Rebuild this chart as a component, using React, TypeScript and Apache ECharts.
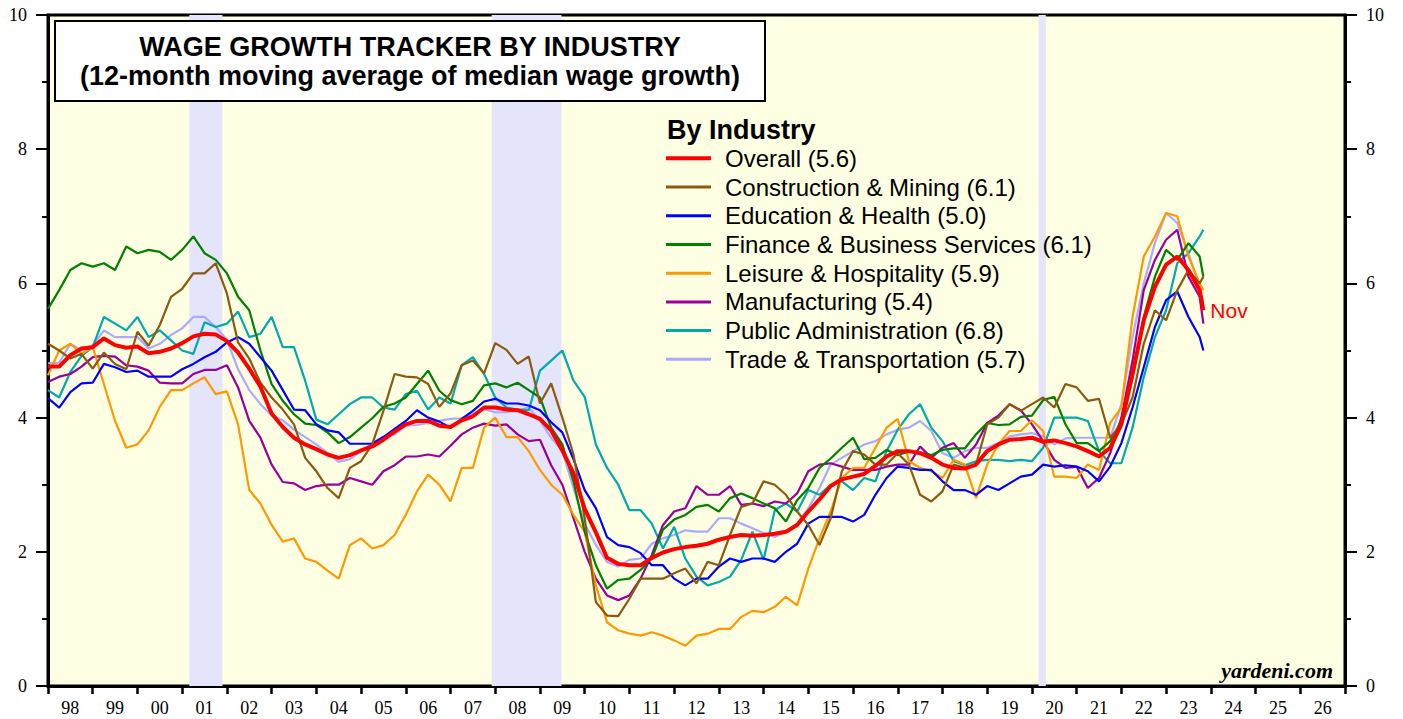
import React, { useEffect, useRef } from "react";
import * as echarts from "echarts";

// ---------- axis labels ----------
const yearLabels = ["98", "99", "00", "01", "02", "03", "04", "05", "06", "07", "08", "09", "10", "11", "12", "13", "14", "15", "16", "17", "18", "19", "20", "21", "22", "23", "24", "25", "26"];

// quarterly observation dates (Jan, Apr, Jul, Oct) from 1998 to 2023, then Nov 2023
const dates: number[] = [];
for (let y = 1998; y <= 2023; y++) for (let m = 0; m < 12; m += 3) dates.push(y + m / 12);
dates.push(2023 + 10 / 12);
const lastMonthLabel = "Nov";

// ---------- series values (% y/y, 12-month moving average) ----------
const overall = [
  4.76, 4.76, 4.93, 5.03, 5.05, 5.18, 5.08, 5.04, 5.06, 4.96, 4.98, 5.03, 5.11, 5.21, 5.25, 5.24,
  5.14, 4.97, 4.73, 4.46, 4.06, 3.86, 3.70, 3.60, 3.53, 3.45, 3.40, 3.44, 3.51, 3.57, 3.67, 3.79,
  3.90, 3.95, 3.95, 3.88, 3.86, 3.96, 4.02, 4.15, 4.15, 4.12, 4.11, 4.05, 3.98, 3.81, 3.51, 3.17,
  2.64, 2.29, 1.91, 1.82, 1.80, 1.80, 1.91, 1.99, 2.04, 2.07, 2.09, 2.12, 2.18, 2.22, 2.25, 2.24,
  2.25, 2.27, 2.30, 2.40, 2.60, 2.78, 2.98, 3.08, 3.12, 3.16, 3.28, 3.42, 3.50, 3.50, 3.47, 3.40,
  3.30, 3.25, 3.24, 3.30, 3.50, 3.60, 3.67, 3.68, 3.70, 3.64, 3.66, 3.62, 3.57, 3.50, 3.42, 3.55,
  3.90, 4.65, 5.45, 5.95, 6.28, 6.40, 6.20, 5.90, 5.60,
];
const construction = [
  5.10, 5.00, 4.88, 4.95, 4.73, 4.97, 4.80, 4.72, 5.28, 5.07, 5.38, 5.80, 5.92, 6.15, 6.15, 6.30,
  5.85, 5.12, 4.88, 4.52, 4.30, 4.12, 3.90, 3.40, 3.20, 2.95, 2.80, 3.25, 3.35, 3.60, 4.10, 4.65,
  4.61, 4.60, 4.50, 4.16, 4.36, 4.78, 4.85, 4.66, 5.11, 5.01, 4.80, 4.91, 4.21, 4.51, 4.00, 3.45,
  2.50, 1.25, 1.05, 1.04, 1.30, 1.60, 1.60, 1.60, 1.68, 1.75, 1.53, 1.85, 1.80, 2.25, 2.67, 2.72,
  3.05, 3.00, 2.85, 2.60, 2.40, 2.10, 2.50, 3.20, 3.50, 3.45, 3.30, 3.30, 3.47, 3.30, 2.85, 2.75,
  2.90, 3.30, 3.25, 3.30, 3.90, 4.00, 4.20, 4.10, 4.20, 4.30, 4.15, 4.50, 4.45, 4.25, 4.28, 3.70,
  3.90, 4.30, 5.10, 5.60, 5.45, 5.90, 6.20, 6.00, 6.10,
];
const education = [
  4.29, 4.15, 4.38, 4.51, 4.52, 4.80, 4.75, 4.68, 4.70, 4.61, 4.61, 4.61, 4.72, 4.80, 4.90, 4.98,
  5.12, 5.20, 5.10, 4.90, 4.70, 4.41, 4.12, 4.11, 3.90, 3.81, 3.78, 3.61, 3.61, 3.61, 3.71, 3.83,
  3.95, 4.11, 4.00, 3.94, 3.85, 3.98, 4.10, 4.24, 4.28, 4.21, 4.21, 4.18, 4.11, 3.93, 3.78, 3.38,
  2.92, 2.65, 2.22, 2.10, 2.07, 1.98, 1.80, 1.80, 1.60, 1.50, 1.60, 1.60, 1.78, 1.90, 1.85, 1.90,
  1.90, 1.85, 2.00, 2.12, 2.42, 2.52, 2.52, 2.52, 2.45, 2.55, 2.85, 3.10, 3.27, 3.25, 3.22, 3.22,
  3.05, 2.92, 2.92, 2.85, 2.98, 2.92, 3.02, 3.12, 3.15, 3.30, 3.27, 3.29, 3.27, 3.20, 3.05, 3.27,
  3.62, 4.15, 4.75, 5.35, 5.75, 5.88, 5.50, 5.20, 5.00,
];
const finance = [
  5.62, 5.90, 6.20, 6.30, 6.25, 6.30, 6.20, 6.55, 6.45, 6.50, 6.47, 6.35, 6.50, 6.70, 6.45, 6.35,
  6.15, 5.80, 5.60, 5.00, 4.50, 4.25, 4.05, 3.91, 3.89, 3.78, 3.62, 3.71, 3.85, 3.99, 4.16, 4.21,
  4.30, 4.50, 4.70, 4.40, 4.26, 4.20, 4.25, 4.48, 4.51, 4.45, 4.52, 4.41, 4.30, 3.85, 3.60, 3.05,
  2.30, 1.80, 1.45, 1.58, 1.60, 1.73, 1.90, 2.33, 2.48, 2.55, 2.67, 2.70, 2.60, 2.80, 2.87, 2.80,
  2.72, 2.65, 2.45, 2.77, 2.95, 3.25, 3.39, 3.55, 3.70, 3.38, 3.40, 3.52, 3.44, 3.50, 3.48, 3.44,
  3.52, 3.54, 3.54, 3.75, 3.92, 3.89, 3.90, 4.01, 4.03, 4.26, 4.31, 3.90, 3.62, 3.62, 3.50, 3.65,
  3.95, 4.60, 5.50, 6.10, 6.50, 6.35, 6.60, 6.40, 6.10,
];
const leisure = [
  4.63, 5.00, 5.10, 4.95, 5.05, 4.50, 3.95, 3.55, 3.60, 3.81, 4.16, 4.41, 4.41, 4.51, 4.60, 4.35,
  4.39, 3.90, 2.92, 2.72, 2.40, 2.15, 2.20, 1.90, 1.85, 1.72, 1.60, 2.10, 2.20, 2.05, 2.10, 2.25,
  2.55, 2.90, 3.15, 3.00, 2.75, 3.25, 3.25, 3.85, 4.00, 3.71, 3.71, 3.50, 3.22, 3.00, 2.85, 2.55,
  2.30, 1.50, 0.95, 0.83, 0.78, 0.75, 0.80, 0.75, 0.68, 0.60, 0.75, 0.78, 0.85, 0.85, 1.03, 1.12,
  1.10, 1.18, 1.33, 1.20, 1.75, 2.20, 2.60, 3.10, 3.25, 3.25, 3.55, 3.85, 3.98, 3.35, 3.25, 3.20,
  3.10, 3.37, 3.30, 2.80, 3.30, 3.60, 3.80, 3.80, 3.96, 3.80, 3.12, 3.12, 3.10, 3.30, 3.22, 3.92,
  4.15, 5.50, 6.40, 6.70, 7.05, 7.00, 6.40, 6.00, 5.90,
];
const manufacturing = [
  4.53, 4.61, 4.65, 4.76, 4.90, 4.92, 4.91, 4.78, 4.76, 4.70, 4.52, 4.51, 4.51, 4.65, 4.71, 4.71,
  4.78, 4.45, 3.95, 3.70, 3.30, 3.04, 3.02, 2.92, 2.98, 3.00, 3.00, 3.10, 3.05, 3.00, 3.20, 3.29,
  3.42, 3.42, 3.45, 3.42, 3.58, 3.75, 3.85, 3.91, 3.88, 3.90, 3.75, 3.65, 3.67, 3.29, 3.00, 2.50,
  2.00, 1.60, 1.35, 1.28, 1.35, 1.60, 1.95, 2.40, 2.60, 2.65, 2.98, 2.85, 2.85, 2.98, 2.70, 2.72,
  2.68, 2.75, 2.72, 2.87, 3.20, 3.30, 3.32, 3.27, 3.22, 3.22, 3.22, 3.27, 3.30, 3.30, 3.57, 3.40,
  3.55, 3.62, 3.40, 3.60, 3.92, 4.03, 4.20, 4.11, 3.90, 3.65, 3.37, 3.25, 3.27, 2.95, 3.10, 3.47,
  4.00, 4.85, 5.90, 6.35, 6.65, 6.80, 6.10, 5.80, 5.40,
];
const publicAdmin = [
  4.41, 4.30, 4.68, 4.92, 5.05, 5.50, 5.40, 5.30, 5.50, 5.20, 5.30, 5.15, 5.00, 4.95, 5.42, 5.35,
  5.40, 5.58, 5.20, 5.25, 5.50, 5.05, 5.05, 4.55, 3.97, 3.90, 4.05, 4.20, 4.30, 4.30, 4.15, 4.12,
  4.35, 4.40, 4.12, 4.30, 4.21, 4.78, 4.90, 4.65, 4.30, 4.15, 4.12, 4.11, 4.70, 4.85, 5.00, 4.55,
  4.31, 3.60, 3.25, 3.00, 2.62, 2.62, 2.42, 2.05, 2.37, 1.90, 1.63, 1.50, 1.55, 1.63, 1.88, 2.30,
  1.88, 2.62, 2.72, 2.60, 2.92, 2.85, 3.00, 3.05, 2.92, 3.10, 3.05, 3.50, 3.82, 4.05, 4.20, 3.85,
  3.65, 3.35, 3.29, 3.35, 3.37, 3.37, 3.35, 3.37, 3.35, 3.55, 4.00, 4.00, 4.00, 3.95, 3.50, 3.32,
  3.32, 3.85, 4.60, 5.20, 5.60, 6.30, 6.45, 6.70, 6.80,
];
const trade = [
  4.81, 4.82, 5.10, 5.00, 5.08, 5.30, 5.20, 5.20, 5.20, 5.03, 5.10, 5.23, 5.33, 5.50, 5.50, 5.35,
  5.16, 4.72, 4.41, 4.20, 4.03, 3.96, 3.82, 3.71, 3.60, 3.47, 3.34, 3.38, 3.50, 3.62, 3.72, 3.75,
  3.88, 3.89, 3.92, 3.95, 3.98, 3.99, 4.06, 4.12, 4.08, 4.08, 4.11, 4.15, 3.95, 3.70, 3.50, 2.95,
  2.42, 2.10, 1.85, 1.78, 1.88, 1.90, 2.12, 2.20, 2.25, 2.32, 2.30, 2.30, 2.50, 2.50, 2.42, 2.35,
  2.28, 2.22, 2.30, 2.42, 2.65, 2.95, 3.30, 3.40, 3.50, 3.60, 3.65, 3.75, 3.82, 3.85, 3.95, 3.80,
  3.47, 3.40, 3.50, 3.55, 3.55, 3.62, 3.72, 3.75, 3.77, 3.72, 3.60, 3.69, 3.70, 3.70, 3.70, 3.70,
  4.20, 5.20, 6.00, 6.60, 7.05, 6.90, 6.45, 5.95, 5.70,
];

// recession periods (decimal years)
const recessions: [number, number][] = [
  [2001.16, 2001.9],
  [2007.92, 2009.48],
  [2020.15, 2020.31],
];

// legend order (top to bottom) and styles
const seriesList = [
  { name: "Overall", data: overall, color: "#FF0000", width: 4 },
  { name: "Construction & Mining", data: construction, color: "#8B5A10", width: 2.2 },
  { name: "Education & Health", data: education, color: "#0000FF", width: 2.2 },
  { name: "Finance & Business Services", data: finance, color: "#008000", width: 2.2 },
  { name: "Leisure & Hospitality", data: leisure, color: "#FF9900", width: 2.2 },
  { name: "Manufacturing", data: manufacturing, color: "#990099", width: 2.2 },
  { name: "Public Administration", data: publicAdmin, color: "#00AAAA", width: 2.2 },
  { name: "Trade & Transportation", data: trade, color: "#AAAAFF", width: 2.2 },
];

const SANS = '"Liberation Sans", Arial, Helvetica, sans-serif';
const SERIF = '"Liberation Serif", "Times New Roman", serif';

export default function App() {
  const ref = useRef<HTMLDivElement>(null);

  useEffect(() => {
    if (!ref.current) return;
    const chart = echarts.init(ref.current, undefined, { renderer: "svg" });

    const lineSeries = seriesList
      .slice()
      .reverse()
      .map((s, i) => ({
        type: "line",
        name: s.name,
        data: s.data.map((v, k) => [dates[k], v]),
        symbol: "none",
        z: 3 + i,
        lineStyle: { color: s.color, width: s.width },
        itemStyle: { color: s.color },
        emphasis: { disabled: true },
        endLabel:
          s.name === "Overall"
            ? {
                show: true,
                formatter: lastMonthLabel,
                color: "#FF0000",
                fontSize: 21,
                fontFamily: SANS,
                distance: 7,
              }
            : { show: false },
      }));

    const legendY0 = 158.3;
    const legendStep = 28.72;
    const legendGraphics: any[] = [
      {
        type: "text",
        x: 667,
        y: 130,
        z: 100,
        style: { text: "By Industry", font: `bold 27px ${SANS}`, fill: "#000", align: "left", verticalAlign: "middle" },
      },
    ];
    seriesList.forEach((s, i) => {
      const y = legendY0 + i * legendStep;
      legendGraphics.push({
        type: "line",
        z: 100,
        shape: { x1: 666, y1: y, x2: 711, y2: y },
        style: { stroke: s.color, lineWidth: s.name === "Overall" ? 4 : 3 },
      });
      legendGraphics.push({
        type: "text",
        x: 725,
        y: y,
        z: 100,
        style: {
          text: `${s.name} (${s.data[s.data.length - 1].toFixed(1)})`,
          font: `24px ${SANS}`,
          fill: "#000",
          align: "left",
          verticalAlign: "middle",
        },
      });
    });

    const yAxisCommon = {
      type: "value",
      min: 0,
      max: 10,
      interval: 2,
      axisLine: { show: true, lineStyle: { color: "#000", width: 3 } },
      axisTick: { show: true, length: 12, lineStyle: { color: "#000", width: 2 } },
      minorTick: { show: true, splitNumber: 2, length: 6, lineStyle: { color: "#000", width: 2 } },
      splitLine: { show: false },
      axisLabel: { color: "#000", fontFamily: SERIF, fontSize: 18, margin: 21 },
    };

    chart.setOption({
      animation: false,
      backgroundColor: "#FFFFFF",
      grid: {
        left: 48,
        right: 58,
        top: 15,
        bottom: 33,
        show: true,
        backgroundColor: "#FFFFE3",
        borderColor: "#000",
        borderWidth: 3,
      },
      xAxis: [
        {
          type: "value",
          min: 1998,
          max: 2027,
          interval: 1,
          axisLine: { show: true, onZero: false, lineStyle: { color: "#000", width: 3 } },
          axisTick: { show: true, length: 8, lineStyle: { color: "#000", width: 2.5 } },
          axisLabel: { show: false },
          splitLine: { show: false },
        },
        {
          type: "category",
          data: yearLabels,
          position: "bottom",
          offset: 0,
          boundaryGap: true,
          axisLine: { show: false },
          axisTick: { show: false },
          splitLine: { show: false },
          axisLabel: { color: "#000", fontFamily: SERIF, fontSize: 18, margin: 13, interval: 0 },
        },
      ],
      yAxis: [
        { ...yAxisCommon, position: "left" },
        { ...yAxisCommon, position: "right" },
      ],
      series: [
        {
          type: "line",
          name: "recessions",
          data: [],
          z: 1,
          silent: true,
          markArea: {
            silent: true,
            itemStyle: { color: "#E4E4FA" },
            data: recessions.map(([a, b]) => [{ xAxis: a }, { xAxis: b }]),
          },
        },
        ...lineSeries,
      ],
      graphic: [
        {
          type: "rect",
          shape: { x: 55, y: 21, width: 710, height: 80 },
          style: { fill: "#FFFFFF", stroke: "#000", lineWidth: 2 },
          z: 100,
        },
        {
          type: "text",
          x: 410,
          y: 47,
          z: 101,
          style: {
            text: "WAGE GROWTH TRACKER BY INDUSTRY",
            font: `bold 27px ${SANS}`,
            fill: "#000",
            align: "center",
            verticalAlign: "middle",
          },
        },
        {
          type: "text",
          x: 410,
          y: 76,
          z: 101,
          style: {
            text: "(12-month moving average of median wage growth)",
            font: `bold 27px ${SANS}`,
            fill: "#000",
            align: "center",
            verticalAlign: "middle",
          },
        },
        ...legendGraphics,
        {
          type: "text",
          x: 1333,
          y: 670,
          z: 100,
          style: {
            text: "yardeni.com",
            font: `italic bold 22px ${SERIF}`,
            fill: "#000",
            align: "right",
            verticalAlign: "middle",
          },
        },
      ],
    });

    return () => chart.dispose();
  }, []);

  return (
    <div
      ref={ref}
      style={{ position: "absolute", left: 0, top: 0, width: 1403, height: 719, background: "#fff" }}
    />
  );
}
